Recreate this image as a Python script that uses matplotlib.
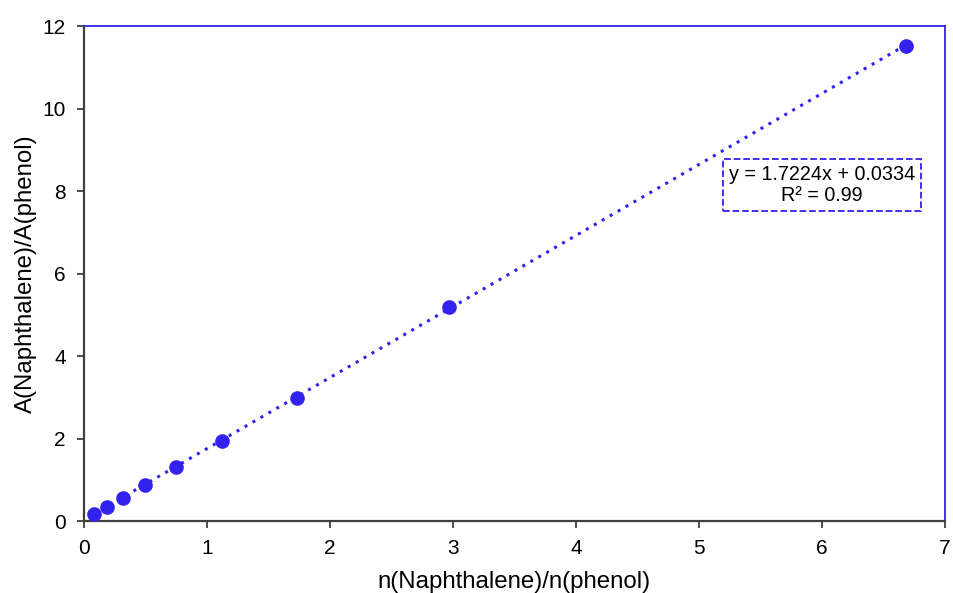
import numpy as np
import matplotlib.pyplot as plt

plt.rcParams["font.family"] = ["Liberation Sans", "DejaVu Sans"]

# mole ratio vs peak area ratio
n_ratio = [0.08, 0.19, 0.32, 0.50, 0.75, 1.12, 1.73, 2.97, 6.68]
a_ratio = [0.17, 0.34, 0.56, 0.87, 1.31, 1.94, 2.98, 5.19, 11.52]
slope, intercept, r2 = 1.7224, 0.0334, 0.99

BLUE = "#3322ee"
DARK = "#404040"

fig = plt.figure(figsize=(9.54, 5.93), dpi=100)
ax = fig.add_axes([0.088, 0.1214, 0.9026, 0.8346])

xs = np.array([min(n_ratio), max(n_ratio)])
ax.plot(xs, slope * xs + intercept, linestyle=(0, (1, 2)), color=BLUE, linewidth=2.2, zorder=2)
ax.plot(n_ratio, a_ratio, "o", color=BLUE, markersize=9.5, zorder=3)

ax.set_xlim(0, 7)
ax.set_ylim(0, 12)
ax.set_xticks(range(0, 8))
ax.set_yticks(range(0, 13, 2))

for side in ("left", "bottom"):
    ax.spines[side].set_color(DARK)
    ax.spines[side].set_linewidth(1.6)
for side in ("top", "right"):
    ax.spines[side].set_color(BLUE)
    ax.spines[side].set_linewidth(1.3)
ax.tick_params(direction="out", length=5, width=1.3, color=DARK, labelsize=15, pad=8)

ax.set_xlabel("n(Naphthalene)/n(phenol)", fontsize=17.3, labelpad=9)
ax.set_ylabel("A(Naphthalene)/A(phenol)", fontsize=17.3, labelpad=4)

ax.text(6.0, 8.15, f"y = {slope}x + {intercept}\nR² = {r2}", fontsize=14.2,
        ha="center", va="center", linespacing=1.15,
        bbox=dict(boxstyle="square,pad=0.3", fc="white", ec=BLUE, ls="--", lw=1.3))

fig.savefig("out.png", dpi=100)
